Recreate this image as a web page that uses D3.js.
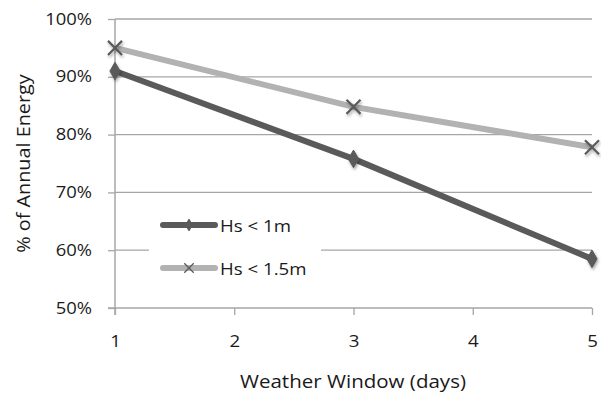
<!DOCTYPE html>
<html>
<head>
<meta charset="utf-8">
<script src="https://cdn.jsdelivr.net/npm/d3@7"></script>
<style>
  html, body { margin: 0; padding: 0; background: #fff; }
  svg { display: block; }
  text { font-family: "Open Sans", Lato, sans-serif; fill: #1a1a1a; }
</style>
</head>
<body>
<script>
// Weather window length (days) on the x axis
const days = [1, 3, 5];
// Share of annual energy available for each wave-height limit
const hsUnder1m = [0.91, 0.758, 0.585];
const hsUnder15m = [0.95, 0.848, 0.778];
const seriesNames = ["Hs < 1m", "Hs < 1.5m"];
const xTicks = [1, 2, 3, 4, 5];
const yTicks = [0.5, 0.6, 0.7, 0.8, 0.9, 1.0];

const width = 601, height = 394;
const margin = { left: 115, right: 9, top: 19, bottom: 86 };
const font = "'Open Sans', Lato, sans-serif";

const svg = d3.select("body").append("svg")
  .attr("width", width).attr("height", height);

// Widen glyphs horizontally by a factor, keeping their anchor point
function widen(sel, factor) {
  sel.each(function () {
    const w = this.getComputedTextLength();
    d3.select(this).attr("textLength", w * factor).attr("lengthAdjust", "spacingAndGlyphs");
  });
}

const defs = svg.append("defs");
const shadow = defs.append("filter").attr("id", "shadow")
  .attr("x", "-50%").attr("y", "-50%").attr("width", "200%").attr("height", "200%");
shadow.append("feDropShadow")
  .attr("dx", 1).attr("dy", 2).attr("stdDeviation", 1.6)
  .attr("flood-color", "#000").attr("flood-opacity", 0.35);

const x = d3.scaleLinear().domain([1, 5]).range([margin.left, width - margin.right]);
const y = d3.scaleLinear().domain([0.5, 1.0]).range([height - margin.bottom, margin.top]);

const gridColor = "#a6a6a6";

// Horizontal gridlines
svg.append("g").selectAll("line").data(yTicks.filter(d => d > 0.5)).join("line")
  .attr("x1", margin.left).attr("x2", width - margin.right)
  .attr("y1", d => y(d)).attr("y2", d => y(d))
  .attr("stroke", gridColor).attr("stroke-width", 1.3);

// Y axis
const yAxis = svg.append("g").attr("transform", `translate(${margin.left},0)`)
  .call(d3.axisLeft(y).tickValues(yTicks).tickFormat(d3.format(".0%")).tickSize(7).tickPadding(16));
yAxis.select(".domain").attr("stroke", gridColor).attr("stroke-width", 1.5)
  .attr("d", `M0,${y(1.0)}V${y(0.5) + 7}`);
yAxis.selectAll(".tick line").attr("stroke", gridColor).attr("stroke-width", 1.3);
yAxis.selectAll(".tick text").attr("font-size", 16).attr("fill", "#1a1a1a")
  .style("font-family", font).call(widen, 1.15);

// X axis
const xAxis = svg.append("g").attr("transform", `translate(0,${y(0.5)})`)
  .call(d3.axisBottom(x).tickValues(xTicks).tickFormat(d3.format("d")).tickSize(7).tickPadding(20));
xAxis.select(".domain").attr("stroke", gridColor).attr("stroke-width", 1.5)
  .attr("d", `M${margin.left - 7},0H${width - margin.right}`);
xAxis.selectAll(".tick line").attr("stroke", gridColor).attr("stroke-width", 1.3);
xAxis.selectAll(".tick text").attr("font-size", 17).attr("fill", "#1a1a1a")
  .style("font-family", font).call(widen, 1.1);

// Axis titles
svg.append("text")
  .attr("transform", `translate(25,${(y(1.0) + y(0.5)) / 2}) rotate(-90)`)
  .attr("text-anchor", "middle").attr("dominant-baseline", "middle")
  .attr("font-size", 18).text("% of Annual Energy").call(widen, 1.1);
svg.append("text")
  .attr("x", 353).attr("y", 388)
  .attr("text-anchor", "middle").attr("font-size", 19)
  .text("Weather Window (days)").call(widen, 1.08);

const darkColor = "#5a5a5a", lightColor = "#b2b2b2";
const line = d3.line().x((d, i) => x(days[i])).y(d => y(d));

const diamond = d3.symbol().type(d3.symbolDiamond).size(90);
const cross = d3.symbol().type(d3.symbolX).size(130);

// Light series (Hs < 1.5m)
svg.append("path").datum(hsUnder15m)
  .attr("d", line).attr("fill", "none")
  .attr("stroke", lightColor).attr("stroke-width", 6).attr("stroke-linejoin", "round");
svg.append("g").selectAll("path").data(hsUnder15m).join("path")
  .attr("transform", (d, i) => `translate(${x(days[i])},${y(d)})`)
  .attr("d", cross).attr("fill", "none")
  .attr("stroke", darkColor).attr("stroke-width", 2.2)
  .attr("filter", "url(#shadow)");

// Dark series (Hs < 1m)
svg.append("path").datum(hsUnder1m)
  .attr("d", line).attr("fill", "none")
  .attr("stroke", darkColor).attr("stroke-width", 6).attr("stroke-linejoin", "round");
svg.append("g").selectAll("path").data(hsUnder1m).join("path")
  .attr("transform", (d, i) => `translate(${x(days[i])},${y(d)})`)
  .attr("d", diamond).attr("fill", darkColor)
  .attr("stroke", darkColor).attr("stroke-width", 1)
  .attr("filter", "url(#shadow)");

// Legend
const legend = svg.append("g");
legend.append("rect").attr("x", 149).attr("y", 206).attr("width", 172).attr("height", 78)
  .attr("fill", "#fff");
const legendDiamond = d3.symbol().type(d3.symbolDiamond).size(40);
const legendCross = d3.symbol().type(d3.symbolX).size(60);
const legendItems = [
  { name: seriesNames[0], color: darkColor, sym: legendDiamond, fill: darkColor, sw: 1, y: 225 },
  { name: seriesNames[1], color: lightColor, sym: legendCross, fill: "none", sw: 1.3, y: 268 }
];
legendItems.forEach(it => {
  legend.append("line").attr("x1", 163).attr("x2", 215)
    .attr("y1", it.y).attr("y2", it.y)
    .attr("stroke", it.color).attr("stroke-width", 6).attr("stroke-linecap", "round");
  legend.append("path").attr("transform", `translate(189,${it.y})`)
    .attr("d", it.sym).attr("fill", it.fill)
    .attr("stroke", darkColor).attr("stroke-width", it.sw);
  legend.append("text").attr("x", 220).attr("y", it.y)
    .attr("dominant-baseline", "central").attr("font-size", 16.5)
    .text(it.name).call(widen, 1.13);
});
</script>
</body>
</html>
